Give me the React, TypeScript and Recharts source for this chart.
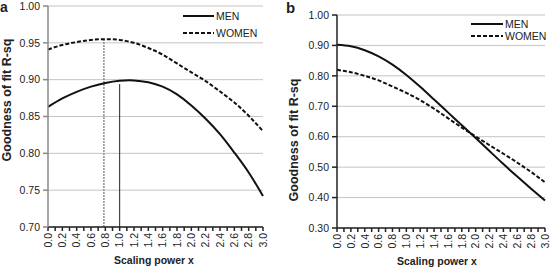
import { CartesianGrid, Line, LineChart, ReferenceLine, XAxis, YAxis } from 'recharts'

const X_VALUES = [0, 0.2, 0.4, 0.6, 0.8, 1.0, 1.2, 1.4, 1.6, 1.8, 2.0, 2.2, 2.4, 2.6, 2.8, 3.0]

// panel a
const MEN_A = [0.863, 0.8745, 0.8835, 0.8905, 0.8955, 0.8985, 0.899, 0.8965, 0.8905, 0.880, 0.865, 0.847, 0.826, 0.801, 0.774, 0.742]
const WOMEN_A = [0.941, 0.947, 0.951, 0.954, 0.955, 0.954, 0.950, 0.943, 0.934, 0.922, 0.910, 0.898, 0.884, 0.869, 0.851, 0.830]

// panel b
const MEN_B = [0.902, 0.897, 0.884, 0.864, 0.837, 0.803, 0.764, 0.722, 0.680, 0.638, 0.596, 0.553, 0.510, 0.469, 0.429, 0.390]
const WOMEN_B = [0.820, 0.812, 0.800, 0.785, 0.765, 0.744, 0.720, 0.692, 0.661, 0.630, 0.601, 0.572, 0.544, 0.515, 0.484, 0.450]

const X_TICKS = [
  0, 0.1, 0.2, 0.3, 0.4, 0.5, 0.6, 0.7, 0.8, 0.9, 1.0, 1.1, 1.2, 1.3, 1.4, 1.5,
  1.6, 1.7, 1.8, 1.9, 2.0, 2.1, 2.2, 2.3, 2.4, 2.5, 2.6, 2.7, 2.8, 2.9, 3.0,
]
const Y_TICKS_A = [0.7, 0.75, 0.8, 0.85, 0.9, 0.95, 1.0]
const Y_TICKS_B = [0.3, 0.4, 0.5, 0.6, 0.7, 0.8, 0.9, 1.0]

// optimum markers in panel a (x, top of line)
const WOMEN_PEAK = { x: 0.78, y: 0.955 }
const MEN_PEAK = { x: 1.0, y: 0.894 }

const SERIES = [
  { key: 'men', name: 'MEN', dash: undefined as string | undefined },
  { key: 'women', name: 'WOMEN', dash: '4 2' },
]

const FONT = '"Liberation Sans", Arial, sans-serif'

const rowsA = X_VALUES.map((x, i) => ({ x, men: MEN_A[i], women: WOMEN_A[i] }))
const rowsB = X_VALUES.map((x, i) => ({ x, men: MEN_B[i], women: WOMEN_B[i] }))

function XTick({ x, y, payload }: any) {
  const v = payload.value as number
  const even = Math.round(v * 10) % 2 === 0
  if (!even) return null
  return (
    <g transform={`translate(${x},${y})`}>
      <text
        transform="rotate(-90)"
        textAnchor="end"
        dy="0.36em"
        fontSize={10.5}
        fontFamily={FONT}
        fill="#222"
      >
        {v.toFixed(1)}
      </text>
    </g>
  )
}

function LegendBox({ left, top, lineW, rowH }: { left: number; top: number; lineW: number; rowH: number }) {
  return (
    <div
      style={{
        position: 'absolute',
        left,
        top,
        fontFamily: FONT,
        fontSize: 10.5,
        color: '#222',
        lineHeight: '12px',
      }}
    >
      {SERIES.map((s) => (
        <div key={s.key} style={{ display: 'flex', alignItems: 'center', height: rowH }}>
          <svg width={lineW + 2} height={6} style={{ display: 'block' }}>
            <line x1={0} y1={3} x2={lineW} y2={3} stroke="#111" strokeWidth={2} strokeDasharray={s.dash} />
          </svg>
          <span>{s.name}</span>
        </div>
      ))}
    </div>
  )
}

interface PanelProps {
  rows: { x: number; men: number; women: number }[]
  yTicks: number[]
  yDomain: [number, number]
  margin: { top: number; right: number; left: number; bottom: number }
  yWidth: number
  xHeight: number
  yAxisColor: string
  children?: React.ReactNode
}

function Panel({ rows, yTicks, yDomain, margin, yWidth, xHeight, yAxisColor, children }: PanelProps) {
  return (
    <LineChart width={276} height={267} data={rows} margin={margin}>
      <CartesianGrid vertical={false} stroke="#c4c4c4" strokeWidth={1} />
      <XAxis
        type="number"
        dataKey="x"
        domain={[0, 3]}
        ticks={X_TICKS}
        interval={0}
        tickSize={4}
        tickMargin={2}
        height={xHeight}
        stroke="#222"
        strokeWidth={1.5}
        tick={<XTick />}
      />
      <YAxis
        type="number"
        domain={yDomain}
        ticks={yTicks}
        interval={0}
        width={yWidth}
        tickSize={5}
        tickMargin={3}
        stroke={yAxisColor}
        strokeWidth={1.5}
        tickFormatter={(v: number) => v.toFixed(2)}
        tick={{ fontSize: 10.5, fontFamily: FONT, fill: '#222' }}
      />
      {children}
      {SERIES.map((s) => (
        <Line
          key={s.key}
          dataKey={s.key}
          name={s.name}
          type="natural"
          stroke="#111"
          strokeWidth={2}
          strokeDasharray={s.dash}
          dot={false}
          activeDot={false}
          isAnimationActive={false}
        />
      ))}
    </LineChart>
  )
}

const titleStyle: React.CSSProperties = {
  position: 'absolute',
  fontFamily: FONT,
  fontWeight: 'bold',
  fontSize: 10.5,
  color: '#222',
  whiteSpace: 'nowrap',
}

function YTitle({ cx, cy }: { cx: number; cy: number }) {
  return (
    <div
      style={{
        ...titleStyle,
        fontSize: 12.5,
        left: cx,
        top: cy,
        transform: 'translate(-50%, -50%) rotate(-90deg)',
      }}
    >
      Goodness of fit R-sq
    </div>
  )
}

function XTitle({ cx, cy }: { cx: number; cy: number }) {
  return (
    <div style={{ ...titleStyle, left: cx, top: cy, transform: 'translate(-50%, -50%)' }}>Scaling power x</div>
  )
}

export default function App() {
  return (
    <div style={{ position: 'absolute', left: 0, top: 0, width: 552, height: 267, background: '#fff', overflow: 'hidden' }}>
      <div style={{ position: 'absolute', left: 0, top: 0, width: 276, height: 267 }}>
        <Panel
          rows={rowsA}
          yTicks={Y_TICKS_A}
          yDomain={[0.7, 1.0]}
          margin={{ top: 6, right: 13, left: 0, bottom: 0 }}
          yWidth={48}
          xHeight={40}
          yAxisColor="#8a8a8a"
        >
          <ReferenceLine
            segment={[{ x: WOMEN_PEAK.x, y: 0.7 }, { x: WOMEN_PEAK.x, y: WOMEN_PEAK.y }]}
            stroke="#8c8c8c"
            strokeWidth={1.5}
            strokeDasharray="2 1"
          />
          <ReferenceLine
            segment={[{ x: MEN_PEAK.x, y: 0.7 }, { x: MEN_PEAK.x, y: MEN_PEAK.y }]}
            stroke="#222"
            strokeWidth={1}
          />
        </Panel>
        <LegendBox left={183} top={7.5} lineW={31} rowH={17} />
        <div style={{ ...titleStyle, fontSize: 14, lineHeight: '12px', left: 0, top: 1 }}>a</div>
        <YTitle cx={7} cy={100} />
        <XTitle cx={154} cy={260} />
      </div>
      <div style={{ position: 'absolute', left: 276, top: 0, width: 276, height: 267 }}>
        <Panel
          rows={rowsB}
          yTicks={Y_TICKS_B}
          yDomain={[0.3, 1.0]}
          margin={{ top: 15, right: 7, left: 0, bottom: 0 }}
          yWidth={61}
          xHeight={39}
          yAxisColor="#222"
        />
        <LegendBox left={195} top={17.5} lineW={32} rowH={12.5} />
        <div style={{ ...titleStyle, fontSize: 15, lineHeight: '13px', left: 10, top: 1 }}>b</div>
        <YTitle cx={18} cy={140} />
        <XTitle cx={161} cy={261} />
      </div>
    </div>
  )
}
